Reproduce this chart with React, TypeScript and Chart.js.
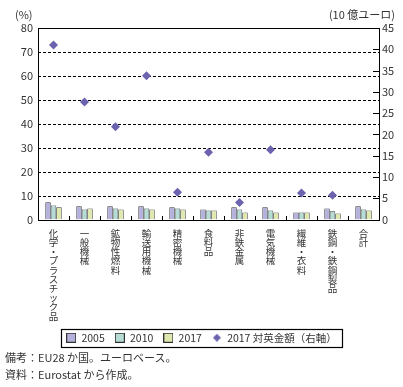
import React, { useEffect, useRef } from 'react';
import { Chart, registerables } from 'chart.js';
Chart.register(...registerables);

const categories = ['化学・プラスチック品', '一般機械', '鉱物性燃料', '輸送用機械', '精密機械', '食料品', '非鉄金属', '電気機械', '繊維・衣料', '鉄鋼・鉄鋼製品', '合計'];
const share2005 = [7.2, 5.5, 5.5, 5.5, 5.1, 4.2, 5.1, 5.1, 2.9, 4.6, 5.5];
const share2010 = [5.9, 4.2, 4.6, 4.6, 4.6, 3.8, 4.2, 3.8, 2.9, 3.4, 4.2];
const share2017 = [5.1, 4.6, 4.2, 4.2, 4.2, 3.8, 2.9, 2.9, 2.9, 2.5, 3.8];
const exports2017 = [41.0, 27.6, 21.8, 33.8, 6.4, 15.8, 4.0, 16.4, 6.2, 5.7, null];
const seriesLabels = ['2005', '2010', '2017', '2017 対英金額（右軸）'];
const leftAxisTitle = '(%)';
const rightAxisTitle = '(10 億ユーロ)';
const notes = ['備考：EU28 か国。ユーロベース。', '資料：Eurostat から作成。'];

const FONT = "'Noto Sans CJK JP', 'Noto Sans', sans-serif";
const TEXT = '#333333';
const BAR_COLORS = ['#b4b2dc', '#b5ddd5', '#dfe8ad'];
const BAR_BORDER = '#333333';
const DIAMOND = '#6b63ad';

function makeSwatch(fill: string, stroke: string, size: number): HTMLCanvasElement {
  const c = document.createElement('canvas');
  c.width = size;
  c.height = size;
  const g = c.getContext('2d')!;
  g.fillStyle = fill;
  g.fillRect(0, 0, size, size);
  g.strokeStyle = stroke;
  g.lineWidth = 1;
  g.strokeRect(0.5, 0.5, size - 1, size - 1);
  return c;
}

function makeDiamond(fill: string, size: number): HTMLCanvasElement {
  const c = document.createElement('canvas');
  c.width = size;
  c.height = size;
  const g = c.getContext('2d')!;
  g.fillStyle = fill;
  g.beginPath();
  g.moveTo(size / 2, 0);
  g.lineTo(size, size / 2);
  g.lineTo(size / 2, size);
  g.lineTo(0, size / 2);
  g.closePath();
  g.fill();
  return c;
}

const gridPlugin = {
  id: 'dashedGrid',
  beforeDatasetsDraw(chart: any) {
    const { ctx, chartArea } = chart;
    const y = chart.scales.y;
    ctx.save();
    ctx.strokeStyle = '#000';
    ctx.lineWidth = 1;
    ctx.setLineDash([3, 2]);
    ctx.beginPath();
    y.ticks.forEach((t: any) => {
      if (t.value === y.min || t.value === y.max) return;
      const py = Math.round(y.getPixelForValue(t.value)) + 0.5;
      ctx.moveTo(chartArea.left, py);
      ctx.lineTo(chartArea.right, py);
    });
    ctx.stroke();
    ctx.restore();
  },
};

const framePlugin = {
  id: 'frameAndTicks',
  afterDatasetsDraw(chart: any) {
    const { ctx, chartArea } = chart;
    const { left, right, top, bottom } = chartArea;
    const x = chart.scales.x;
    const y1 = chart.scales.y1;
    ctx.save();
    ctx.strokeStyle = '#000';
    ctx.lineWidth = 1;
    ctx.setLineDash([]);
    ctx.strokeRect(Math.round(left) + 0.5, Math.round(top) + 0.5, Math.round(right - left), Math.round(bottom - top));
    ctx.beginPath();
    for (let i = 1; i < categories.length; i++) {
      const px = Math.round((x.getPixelForValue(i - 1) + x.getPixelForValue(i)) / 2) + 0.5;
      ctx.moveTo(px, Math.round(bottom));
      ctx.lineTo(px, Math.round(bottom) - 4);
    }
    y1.ticks.forEach((t: any) => {
      const py = Math.round(y1.getPixelForValue(t.value)) + 0.5;
      ctx.moveTo(Math.round(right), py);
      ctx.lineTo(Math.round(right) - 6, py);
    });
    ctx.stroke();
    ctx.restore();
  },
};

const legendBoxPlugin = {
  id: 'legendBox',
  afterDraw(chart: any) {
    const lg = chart.legend;
    if (!lg || !lg.legendHitBoxes || !lg.legendHitBoxes.length) return;
    const hb = lg.legendHitBoxes;
    const first = hb[0];
    const last = hb[hb.length - 1];
    const l = Math.round(first.left - 5) + 0.5;
    const r = Math.round(last.left + last.width + 5) + 0.5;
    const t = Math.round(first.top - 4) + 0.5;
    const b = Math.round(first.top + first.height + 4) + 0.5;
    const { ctx } = chart;
    ctx.save();
    ctx.strokeStyle = '#000';
    ctx.lineWidth = 1.2;
    ctx.strokeRect(l, t, r - l, b - t);
    ctx.restore();
  },
};

export default function App() {
  const ref = useRef<HTMLCanvasElement>(null);

  useEffect(() => {
    if (!ref.current) return;
    const swatches = [
      makeSwatch(BAR_COLORS[0], BAR_BORDER, 10),
      makeSwatch(BAR_COLORS[1], BAR_BORDER, 10),
      makeSwatch(BAR_COLORS[2], BAR_BORDER, 10),
      makeDiamond(DIAMOND, 8),
    ];
    const barDs = (label: string, data: number[], color: string) => ({
      type: 'bar' as const,
      label,
      data,
      backgroundColor: color,
      borderColor: BAR_BORDER,
      borderWidth: 0.8,
      yAxisID: 'y',
      categoryPercentage: 0.53,
      barPercentage: 1,
      order: 2,
    });
    const chart = new Chart(ref.current, {
      type: 'bar',
      data: {
        labels: categories.map((c) => Array.from(c)),
        datasets: [
          barDs(seriesLabels[0], share2005, BAR_COLORS[0]),
          barDs(seriesLabels[1], share2010, BAR_COLORS[1]),
          barDs(seriesLabels[2], share2017, BAR_COLORS[2]),
          {
            type: 'line' as const,
            label: seriesLabels[3],
            data: exports2017 as any,
            showLine: false,
            pointStyle: 'rectRot',
            pointRadius: 4.5,
            pointBackgroundColor: DIAMOND,
            pointBorderColor: DIAMOND,
            pointBorderWidth: 0,
            yAxisID: 'y1',
            order: 1,
          } as any,
        ],
      },
      options: {
        responsive: false,
        animation: false,
        events: [],
        layout: { padding: { left: 0, right: 0, top: 28, bottom: 34 } },
        font: { family: FONT },
        plugins: {
          tooltip: { enabled: false },
          legend: {
            position: 'bottom',
            labels: {
              usePointStyle: true,
              boxWidth: 10,
              boxHeight: 10,
              padding: 10,
              color: TEXT,
              font: { family: FONT, size: 10.5 },
              generateLabels: () =>
                seriesLabels.map((text, i) => ({
                  text,
                  pointStyle: swatches[i] as any,
                  fillStyle: i < 3 ? BAR_COLORS[i] : DIAMOND,
                  strokeStyle: 'transparent',
                  lineWidth: 0,
                  hidden: false,
                  datasetIndex: i,
                  fontColor: TEXT,
                })),
            },
          },
        },
        scales: {
          x: {
            grid: { display: false },
            border: { display: false },
            ticks: {
              color: TEXT,
              maxRotation: 0,
              minRotation: 0,
              autoSkip: false,
              padding: 1,
              font: { family: FONT, size: 9.5, lineHeight: '9.2px' },
            },
            afterFit: (s: any) => {
              s.height = 103;
            },
          },
          y: {
            position: 'left',
            min: 0,
            max: 80,
            ticks: { stepSize: 10, color: TEXT, padding: 5, font: { family: FONT, size: 11 } },
            grid: { display: false, drawTicks: false },
            border: { display: false },
            afterFit: (s: any) => {
              s.width = 38;
            },
          },
          y1: {
            position: 'right',
            min: 0,
            max: 45,
            ticks: { stepSize: 5, color: TEXT, padding: 3, font: { family: FONT, size: 11 } },
            grid: { drawOnChartArea: false, drawTicks: false },
            border: { display: false },
            afterFit: (s: any) => {
              s.width = 24;
            },
          },
        },
      },
      plugins: [gridPlugin, framePlugin, legendBoxPlugin],
    } as any);
    return () => chart.destroy();
  }, []);

  const textStyle: React.CSSProperties = {
    position: 'absolute',
    fontFamily: FONT,
    fontSize: 11,
    color: TEXT,
    whiteSpace: 'nowrap',
    lineHeight: '14px',
  };

  return (
    <div style={{ position: 'absolute', left: 0, top: 0, width: 403, height: 387, background: '#fff', overflow: 'hidden' }}>
      <canvas ref={ref} width={403} height={387} style={{ position: 'absolute', left: 0, top: 0 }} />
      <div style={{ ...textStyle, left: 15, top: 7 }}>{leftAxisTitle}</div>
      <div style={{ ...textStyle, right: 8, top: 7 }}>{rightAxisTitle}</div>
      <div style={{ ...textStyle, left: 5, top: 350 }}>{notes[0]}</div>
      <div style={{ ...textStyle, left: 5, top: 367 }}>{notes[1]}</div>
    </div>
  );
}
